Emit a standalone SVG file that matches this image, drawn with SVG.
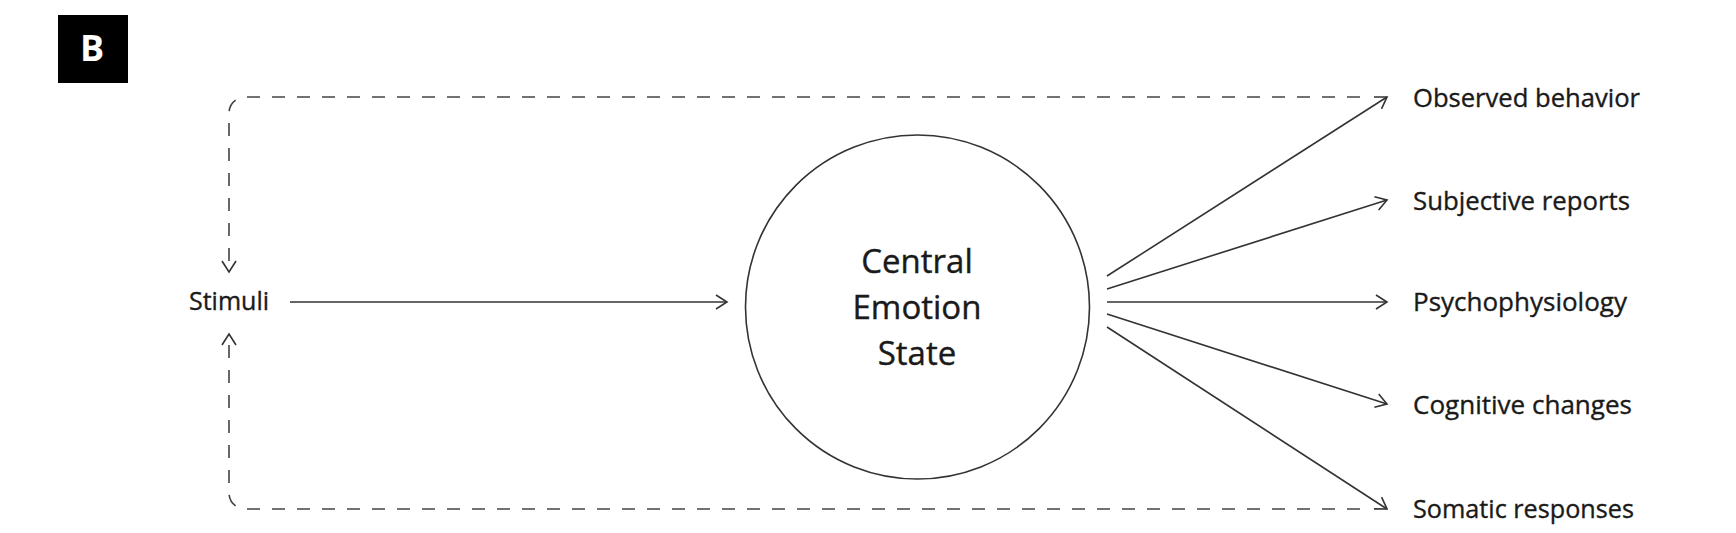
<svg xmlns="http://www.w3.org/2000/svg" width="1736" height="533" viewBox="0 0 1736 533">
<style>
.lbl{font-family:"Open Sans","DejaVu Sans",sans-serif;font-size:25px;fill:#1a1a1a;stroke:#1a1a1a;stroke-width:0.35}
.ctr{font-family:"Open Sans","DejaVu Sans",sans-serif;font-size:33px;fill:#1a1a1a;stroke:#1a1a1a;stroke-width:0.4;text-anchor:middle}
.ln{fill:none;stroke:#333;stroke-width:1.6}
.dash{fill:none;stroke:#444;stroke-width:1.6;stroke-dasharray:13 12}
</style>
<defs>
<marker id="chev" viewBox="-13 -9 15 18" markerWidth="15" markerHeight="18" refX="0" refY="0" orient="auto" markerUnits="userSpaceOnUse">
<path d="M-11,-7 L0,0 L-11,7" fill="none" stroke="#333" stroke-width="1.6"/>
</marker>
</defs>
<rect width="1736" height="533" fill="#fff"/>
<g id="panel-label">
<rect x="58" y="15" width="70" height="68" fill="#000"/>
<text x="92" y="61" font-family="Open Sans, DejaVu Sans, sans-serif" font-size="36" font-weight="bold" fill="#fff" text-anchor="middle">B</text>
</g>
<g id="connectors">
<path class="ln" d="M290,302 H727" marker-end="url(#chev)"/>
<path class="ln" d="M1107,276 L1387,97" marker-end="url(#chev)"/>
<path class="ln" d="M1107,289 L1387,200" marker-end="url(#chev)"/>
<path class="ln" d="M1107,302 L1387,302" marker-end="url(#chev)"/>
<path class="ln" d="M1107,314 L1387,404" marker-end="url(#chev)"/>
<path class="ln" d="M1107,327 L1387,509" marker-end="url(#chev)"/>
<path class="dash" d="M1360,97 H245 A16,16 0 0 0 229,113 V272" marker-end="url(#chev)"/>
<path class="dash" d="M1360,509 H245 A16,16 0 0 1 229,493 V334" marker-end="url(#chev)"/>
</g>
<g id="stimuli">
<text class="lbl" x="189" y="310">Stimuli</text>
</g>
<g id="central">
<circle cx="917.5" cy="307" r="172" fill="none" stroke="#333" stroke-width="1.6"/>
<text class="ctr" x="917" y="273">Central</text>
<text class="ctr" x="917" y="319">Emotion</text>
<text class="ctr" x="917" y="365">State</text>
</g>
<g id="observed"><text class="lbl" x="1413" y="107" textLength="227" lengthAdjust="spacingAndGlyphs">Observed behavior</text></g>
<g id="subjective"><text class="lbl" x="1413" y="210" textLength="217" lengthAdjust="spacingAndGlyphs">Subjective reports</text></g>
<g id="psycho"><text class="lbl" x="1413" y="311" textLength="214" lengthAdjust="spacingAndGlyphs">Psychophysiology</text></g>
<g id="cognitive"><text class="lbl" x="1413" y="414" textLength="219" lengthAdjust="spacingAndGlyphs">Cognitive changes</text></g>
<g id="somatic"><text class="lbl" x="1413" y="518" textLength="221" lengthAdjust="spacingAndGlyphs">Somatic responses</text></g>
</svg>
